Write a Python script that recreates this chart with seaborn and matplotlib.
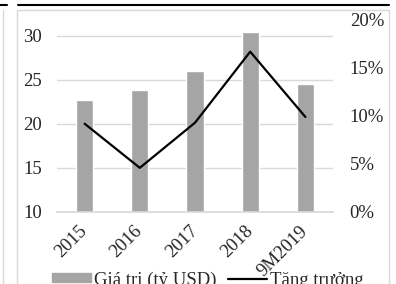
import numpy as np
import matplotlib
matplotlib.use('Agg')
import matplotlib.pyplot as plt
import seaborn as sns
from matplotlib.lines import Line2D
from matplotlib.patches import Patch, Rectangle
from matplotlib.ticker import FuncFormatter

# values
categories = ['2015', '2016', '2017', '2018', '9M2019']
values = [22.7, 23.8, 26.0, 30.4, 24.5]          # Giá trị (tỷ USD)
growth = [0.092, 0.046, 0.093, 0.167, 0.099]     # Tăng trưởng
left_ticks = [10, 15, 20, 25, 30]
right_ticks = [0, 0.05, 0.10, 0.15, 0.20]

sns.set_theme(style='white')
plt.rcParams['font.family'] = ['Liberation Serif', 'DejaVu Serif']
plt.rcParams['font.size'] = 13.5

W, H = 396, 284
fig = plt.figure(figsize=(W / 100, H / 100), dpi=100)

def fx(px):
    return px / W

def fy(py):
    return 1 - py / H

# page decorations around the chart (cropped document)
grey = '#d9d9d9'
fig.add_artist(Line2D([fx(0), fx(7)], [fy(5), fy(5)], color='black', lw=1.5, transform=fig.transFigure))
fig.add_artist(Line2D([fx(18), fx(389)], [fy(5), fy(5)], color='black', lw=1.5, transform=fig.transFigure))
fig.add_artist(Line2D([fx(3), fx(3)], [fy(10), fy(290)], color=grey, lw=1, transform=fig.transFigure))
fig.add_artist(Rectangle((fx(16.5), fy(300)), fx(372), fy(10) - fy(300), fill=False,
                         edgecolor=grey, lw=1, transform=fig.transFigure))

ax = fig.add_axes([fx(57), fy(212), fx(276), fy(20) - fy(212)])
pos = np.arange(len(categories))

sns.barplot(x=pos, y=values, color='#a5a5a5', width=0.31, saturation=1, ax=ax, native_scale=True)
ax.set_xlim(-0.5, len(categories) - 0.5)
ax.set_ylim(10, 31.8)
ax.set_yticks(left_ticks)
ax.yaxis.grid(True, color=grey, lw=1)
ax.set_axisbelow(True)
ax.set_xticks(pos)
ax.set_xticklabels(categories, rotation=45, ha='right', va='center', rotation_mode='anchor')
ax.tick_params(axis='x', length=0, pad=12, labelsize=13.5)
ax.tick_params(axis='y', length=0, pad=11, labelsize=13.5)
ax.set_xlabel('')
ax.set_ylabel('')
for s in ['left', 'right', 'top']:
    ax.spines[s].set_visible(False)
ax.spines['bottom'].set_color(grey)
ax.patch.set_alpha(0)

ax2 = ax.twinx()
sns.lineplot(x=pos, y=growth, color='black', lw=1.6, ax=ax2)
ax2.set_ylim(0, 0.2)
ax2.set_yticks(right_ticks)
ax2.yaxis.set_major_formatter(FuncFormatter(lambda v, _: f'{v * 100:.0f}%'))
ax2.tick_params(axis='y', length=0, pad=12, labelsize=13.5)
ax2.set_ylabel('')
for s in ax2.spines.values():
    s.set_visible(False)

handles = [Patch(color='#a5a5a5', label='Giá trị (tỷ USD)'),
           Line2D([], [], color='black', lw=1.6, label='Tăng trưởng')]
fig.legend(handles=handles, loc='center left', bbox_to_anchor=(fx(52), fy(280)),
           ncol=2, frameon=False, borderpad=0, borderaxespad=0,
           handlelength=2.1, handleheight=0.37, handletextpad=0.15,
           columnspacing=0.6, fontsize=13.5)

fig.savefig('out.png', dpi=100)
